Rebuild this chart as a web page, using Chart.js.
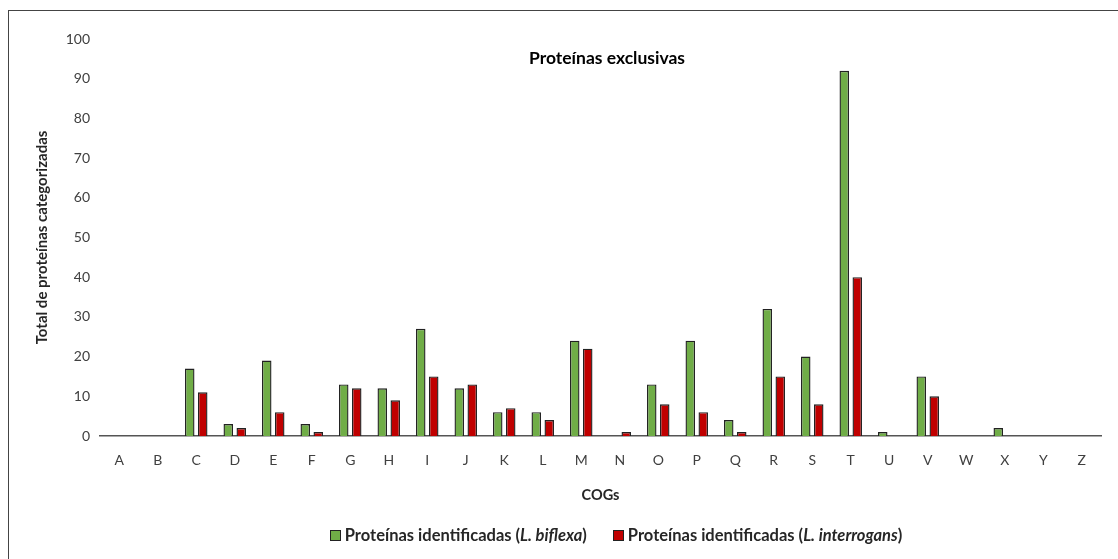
<!DOCTYPE html>
<html lang="es">
<head>
    <meta charset="UTF-8">
    <title>Proteínas exclusivas</title>
    <script src="https://cdn.jsdelivr.net/npm/chart.js"></script>
    <style>
        html, body { margin: 0; padding: 0; background: #fff; overflow: hidden; }
        #frame { position: absolute; left: 8px; top: 10px; width: 1200px; height: 700px; border: 1.5px solid #444; box-sizing: border-box; }
        #wrap { position: absolute; left: 0; top: 0; width: 1118px; height: 559px; }
        #legend { position: absolute; top: 525px; left: 114px; width: 1004px; text-align: center; font-family: Lato, sans-serif; font-weight: bold; font-size: 16.5px; color: #262626; white-space: nowrap; }
        #legend span.item { display: inline-block; margin: 0 13px; }
        #legend span.box { display: inline-block; width: 9px; height: 9px; border: 1px solid #222; margin-right: 4px; vertical-align: 0px; }
    </style>
</head>
<body>
    <div id="frame"></div>
    <div id="wrap"><canvas id="cogChart" width="1118" height="559"></canvas></div>
    <div id="legend"></div>

    <script>
        const categorias = ['A','B','C','D','E','F','G','H','I','J','K','L','M','N','O','P','Q','R','S','T','U','V','W','X','Y','Z'];
        const biflexa =      [0, 0, 17, 3, 19, 3, 13, 12, 27, 12, 6, 6, 24, 0, 13, 24, 4, 32, 20, 92, 1, 15, 0, 2, 0, 0];
        const interrogans =  [0, 0, 11, 2, 6, 1, 12, 9, 15, 13, 7, 4, 22, 1, 8, 6, 1, 15, 8, 40, 0, 10, 0, 0, 0, 0];
        const especies = ['L. biflexa', 'L. interrogans'];
        const colores = ['#70AD47', '#C00000'];

        const tituloPlugin = {
            id: 'tituloDentro',
            afterDraw(chart) {
                const ctx = chart.ctx;
                ctx.save();
                ctx.font = 'bold 17.5px Lato, sans-serif';
                ctx.fillStyle = '#000';
                ctx.textAlign = 'center';
                ctx.textBaseline = 'middle';
                ctx.fillText('Proteínas exclusivas', 607, 58);
                ctx.restore();
            }
        };

        const data = {
            labels: categorias,
            datasets: [biflexa, interrogans].map((serie, i) => ({
                label: 'Proteínas identificadas (' + especies[i] + ')',
                data: serie,
                backgroundColor: colores[i],
                borderColor: '#222',
                borderWidth: 1.4,
                categoryPercentage: 0.675,
                barPercentage: 0.73
            }))
        };

        const chart = new Chart(document.getElementById('cogChart'), {
            type: 'bar',
            data: data,
            plugins: [tituloPlugin],
            options: {
                responsive: false,
                animation: false,
                layout: { padding: { left: 0, right: 17, top: 39, bottom: 0 } },
                plugins: {
                    legend: { display: false },
                    tooltip: { enabled: false }
                },
                scales: {
                    x: {
                        grid: { display: false, drawTicks: false },
                        border: { display: true, color: '#555', width: 1.5 },
                        ticks: { color: '#404040', padding: 16, font: { family: 'Lato', size: 14 } },
                        title: {
                            display: true, text: 'COGs', color: '#262626',
                            font: { family: 'Lato', size: 14.5, weight: 'bold' },
                            padding: { top: 0, bottom: 55.3 }
                        },
                        afterFit(scale) { scale.height = 123; }
                    },
                    y: {
                        min: 0, max: 100,
                        grid: { display: false, drawTicks: false },
                        border: { display: false },
                        ticks: { stepSize: 10, color: '#404040', padding: 10, font: { family: 'Lato', size: 14 } },
                        title: {
                            display: true, text: 'Total de proteínas categorizadas', color: '#262626',
                            font: { family: 'Lato', size: 15, weight: 'bold' },
                            padding: { top: 33, bottom: 0 }
                        },
                        afterFit(scale) { scale.width = 100; }
                    }
                }
            }
        });

        // leyenda en HTML para poder poner el nombre de la especie en cursiva
        const leyenda = document.getElementById('legend');
        chart.data.datasets.forEach((ds, i) => {
            const item = document.createElement('span');
            item.className = 'item';
            item.innerHTML = '<span class="box" style="background:' + ds.backgroundColor + '"></span>' +
                'Proteínas identificadas (<i>' + especies[i] + '</i>)';
            leyenda.appendChild(item);
        });
    </script>
</body>
</html>
